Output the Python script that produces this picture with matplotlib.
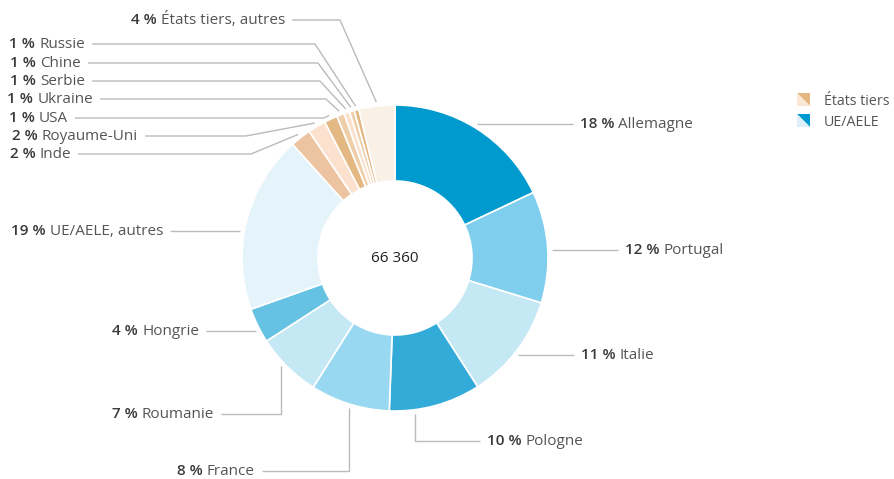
import numpy as np
import matplotlib
matplotlib.use('Agg')
import matplotlib.pyplot as plt
from matplotlib.patches import Polygon

plt.rcParams['font.family'] = ['Open Sans', 'DejaVu Sans']

# Données (parts en %, dans le sens horaire depuis midi)
pays = ['Allemagne', 'Portugal', 'Italie', 'Pologne', 'France', 'Roumanie',
        'Hongrie', 'UE/AELE, autres', 'Inde', 'Royaume-Uni', 'USA', 'Ukraine',
        'Serbie', 'Chine', 'Russie', 'États tiers, autres']
parts = [18.0, 11.8, 11.2, 9.7, 8.4, 6.9, 3.7, 18.8, 2.2, 1.9, 1.4, 0.8,
         0.6, 0.5, 0.5, 3.8]
etiquettes = ['18 %', '12 %', '11 %', '10 %', '8 %', '7 %', '4 %', '19 %',
              '2 %', '2 %', '1 %', '1 %', '1 %', '1 %', '1 %', '4 %']
couleurs = ['#009ACF', '#7FCEEE', '#C5E8F5', '#33ABD9', '#99D8F1', '#C5E8F5',
            '#66C2E3', '#E5F4FB', '#EDC4A1', '#FBE1CE', '#E4B882', '#EFCFA9',
            '#FBE1CE', '#EFCFA9', '#E4B882', '#F9F0E6']
total = '66 360'
legende = ['États tiers', 'UE/AELE']
legende_couleurs = [('#E4B882', '#FBE7D6'), ('#009ACF', '#DDF1FA')]

# Mise en page (pixels)
cx, cy, r_ext, largeur = 395, 258, 153, 76
r_ligne = 157
fs = 11
# (mode, bout de ligne x, y, coude) : 'h' horizontale, 'v' verticale puis horizontale, 'd' diagonale
pos = {
    'Allemagne': ('h', 573, 124, None),
    'Portugal': ('h', 618, 250, None),
    'Italie': ('h', 574, 355, None),
    'Pologne': ('v', 480, 441, 415),
    'France': ('v', 262, 471, 349),
    'Roumanie': ('v', 221, 414, 281),
    'Hongrie': ('h', 206, 331, None),
    'UE/AELE, autres': ('h', 170, 231, None),
    'Inde': ('d', 78, 154, 251),
    'Royaume-Uni': ('d', 145, 136, 246),
    'USA': ('d', 75, 118, 324),
    'Ukraine': ('d', 100, 99, 326),
    'Serbie': ('d', 92, 81, 320),
    'Chine': ('d', 88, 63, 318),
    'Russie': ('d', 92, 44, 315),
    'États tiers, autres': ('d', 292, 20, 340),
}

fig = plt.figure(figsize=(8.94, 4.79), dpi=100)
ax = fig.add_axes([0, 0, 1, 1])

ax.pie(parts, colors=couleurs, radius=r_ext, center=(cx, cy), startangle=-90,
       counterclock=True, normalize=True,
       wedgeprops=dict(width=largeur, edgecolor='white', linewidth=1.2))
ax.set_xlim(0, 894)
ax.set_ylim(479, 0)
ax.set_aspect('auto')
ax.axis('off')

ax.text(cx, cy, total, ha='center', va='center', fontsize=11, color='#222222')

frac = np.array(parts) / sum(parts)
cum = np.cumsum(frac)
milieux = (cum - frac / 2) * 2 * np.pi

renderer = fig.canvas.get_renderer()
gris_ligne = '#BBBBBB'
# décalage pour centrer verticalement le texte sur la ligne (ligne de base)
dy_base = 4

for i, nom in enumerate(pays):
    mode, xl, yl, coude = pos[nom]
    droite = xl > cx
    if mode == 'h':
        dx = np.sqrt(r_ligne ** 2 - (yl - cy) ** 2)
        x0 = cx + dx if droite else cx - dx
        xs, ys = [x0, xl], [yl, yl]
    elif mode == 'v':
        y0 = cy + np.sqrt(r_ligne ** 2 - (coude - cx) ** 2)
        xs, ys = [coude, coude, xl], [y0, yl, yl]
    else:
        a = milieux[i]
        x0 = cx + r_ligne * np.sin(a)
        y0 = cy - r_ligne * np.cos(a)
        xs, ys = [x0, coude, xl], [y0, yl, yl]
    ax.plot(xs, ys, color=gris_ligne, lw=1, solid_capstyle='butt')

    yb = yl + dy_base
    if droite:
        t = ax.text(xl + 7, yb, etiquettes[i] + ' ', ha='left', va='baseline',
                    fontsize=fs, fontweight='semibold', color='#3A3A3A')
        w = t.get_window_extent(renderer).width
        ax.text(xl + 7 + w, yb, nom, ha='left', va='baseline',
                fontsize=fs, color='#555555')
    else:
        t = ax.text(xl - 7, yb, nom, ha='right', va='baseline',
                    fontsize=fs, color='#555555')
        w = t.get_window_extent(renderer).width
        ax.text(xl - 7 - w, yb, etiquettes[i] + ' ', ha='right', va='baseline',
                fontsize=fs, fontweight='semibold', color='#3A3A3A')

# Légende
for k, (lab, (fonce, clair)) in enumerate(zip(legende, legende_couleurs)):
    x0, y0, s = 797, 93 + 21 * k, 13
    ax.add_patch(Polygon([[x0, y0], [x0 + s, y0], [x0 + s, y0 + s]], closed=True,
                         facecolor=fonce, edgecolor='none'))
    ax.add_patch(Polygon([[x0, y0], [x0, y0 + s], [x0 + s, y0 + s]], closed=True,
                         facecolor=clair, edgecolor='none'))
    ax.text(824, y0 + s / 2 + 1 + dy_base, lab, ha='left', va='baseline',
            fontsize=10.3, color='#555555')

fig.savefig('out.png', dpi=100)
